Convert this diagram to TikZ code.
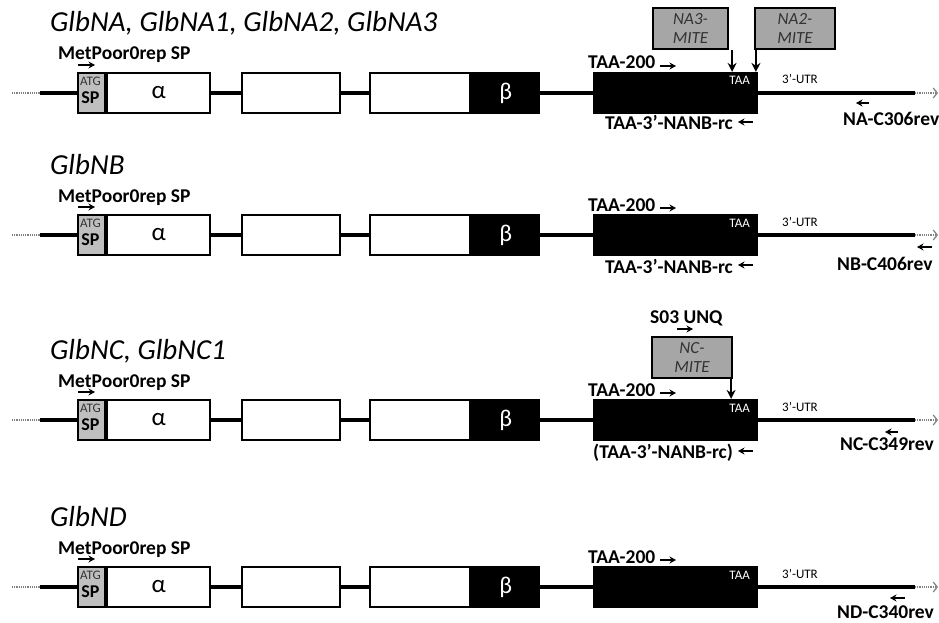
\documentclass[tikz,border=0pt]{standalone}
\usepackage{fontspec}
\setmainfont{Carlito}
\usetikzlibrary{arrows.meta,positioning}
\definecolor{mitegray}{HTML}{A6A6A6}
\definecolor{spgray}{HTML}{BFBFBF}
\definecolor{labelgray}{HTML}{333333}

\tikzset{
  exon/.style={draw,line width=2.2pt,fill=white,minimum height=40pt,inner sep=0pt,anchor=west},
  cds/.style={exon,fill=black,text=white},
  intron/.style={line width=3.2pt},
  utr/.style={line width=4.6pt},
  flank/.style={line width=1.2pt,densely dotted,gray},
  primer/.style={line width=1.5pt,-{Stealth[length=6.5pt,width=7pt]}},
  insert/.style={line width=2.2pt,-{Stealth[length=9pt,width=9pt]}},
  mite/.style={draw,line width=2.2pt,fill=mitegray,minimum height=41pt,inner sep=0pt,
    font=\fontsize{17}{18.5}\selectfont\itshape,text=labelgray,align=center},
  primername/.style={font=\fontsize{19.5}{20}\selectfont\bfseries,inner sep=0pt,anchor=base west},
  genename/.style={font=\fontsize{29}{32}\selectfont\itshape,inner sep=0pt,anchor=base west},
  small/.style={font=\fontsize{13}{13}\selectfont,inner sep=0pt},
}

\begin{document}
\begin{tikzpicture}[x=1pt,y=-1pt]
  \useasboundingbox (0,0) rectangle (939,623);

  % the four gene models
  \foreach \r/\ly/\gene in {1/93/{GlbNA, GlbNA1, GlbNA2, GlbNA3},2/235/{GlbNB},
                            3/420/{GlbNC, GlbNC1},4/587/{GlbND}}{
    \node[genename] (name\r) at (50,\ly-61) {\gene};
    \node[primername] (met\r) at (58,\ly-33) {MetPoor0rep SP};
    \draw[primer] (78,\ly-28) -- (95,\ly-28);

    \node[exon,fill=spgray,minimum width=27pt] (sp\r) at (77,\ly) {};
    \node[small,text=labelgray] (atg\r) at (90.5,\ly-12) {ATG};
    \node[font=\fontsize{18}{18}\selectfont\bfseries,inner sep=0pt] (spt\r) at (90.5,\ly+5) {SP};
    \node[exon,minimum width=103pt,font=\fontsize{25}{25}\selectfont] (alpha\r) at (sp\r.east) {α};
    \node[exon,minimum width=98pt] (ex2\r) at (241,\ly) {};
    \node[exon,minimum width=100pt] (ex3\r) at (369,\ly) {};
    \node[cds,minimum width=67pt,font=\fontsize{24}{24}\selectfont] (beta\r) at (ex3\r.east) {β};
    \node[cds,minimum width=163pt] (cds\r) at (593,\ly) {};
    \node[small,text=white,anchor=base east] (taa\r) at (750,\ly-8) {TAA};
    \node[small,anchor=base west] (utr\r) at (782,\ly-9) {3’-UTR};
    \node[primername] (taa200\r) at (588,\ly-24) {TAA-200};
    \draw[primer] (660,\ly-27) -- (676,\ly-27);

    \coordinate (left\r) at (12,\ly);
    \coordinate (flankL\r) at (40,\ly);
    \coordinate (utrA\r) at (883,\ly);
    \coordinate (utrB\r) at (915,\ly);
    \coordinate (right\r) at (938,\ly);
    \draw[flank] (left\r) -- (flankL\r);
    \draw[utr] (flankL\r) -- (sp\r.west);
    \draw[intron] (alpha\r.east) -- (ex2\r.west);
    \draw[intron] (ex2\r.east) -- (ex3\r.west);
    \draw[intron] (beta\r.east) -- (cds\r.west);
    \draw[intron] (cds\r.east) -- (utrA\r);
    \draw[utr] (utrA\r) -- (utrB\r);
    \draw[flank,-{Straight Barb[length=4pt,width=10pt]}] (utrB\r) -- (right\r);
  }

  % GlbNA
  \node[mite,minimum width=75pt] (na3) at (690.5,28.5) {NA3-\\MITE};
  \node[mite,minimum width=80pt] (na2) at (795,28.5) {NA2-\\MITE};
  \draw[insert] ([xshift=3pt]na3.south east) -- ([xshift=3pt]na3.south east |- cds1.north);
  \draw[insert] ([xshift=2pt]na2.south west) -- ([xshift=2pt]na2.south west |- cds1.north);
  \node[primername] (nanb1) at (605,130) {TAA-3’-NANB-rc};
  \draw[primer] (753,122) -- (738,122);
  \node[primername] (rev1) at (843,125) {NA-C306rev};
  \draw[primer] (869,103) -- (856,103);

  % GlbNB
  \node[primername] (nanb2) at (605,273) {TAA-3’-NANB-rc};
  \draw[primer] (753,265) -- (738,265);
  \node[primername] (rev2) at (837,270) {NB-C406rev};
  \draw[primer] (932,247) -- (917,247);

  % GlbNC
  \node[primername] (s03) at (650,323) {S03 UNQ};
  \draw[primer] (677,329) -- (693,329);
  \node[mite,minimum width=80pt] (nc) at (692,357.5) {NC-\\MITE};
  \draw[insert] ([xshift=-2pt]nc.south east) -- ([xshift=-2pt]nc.south east |- cds3.north);
  \node[primername] (nanb3) at (593,458) {(TAA-3’-NANB-rc)};
  \draw[primer] (753,451) -- (738,451);
  \node[primername] (rev3) at (840,450) {NC-C349rev};
  \draw[primer] (898,432) -- (885,432);

  % GlbND
  \node[primername] (rev4) at (837,618) {ND-C340rev};
  \draw[primer] (905,598) -- (890,598);
\end{tikzpicture}
\end{document}
